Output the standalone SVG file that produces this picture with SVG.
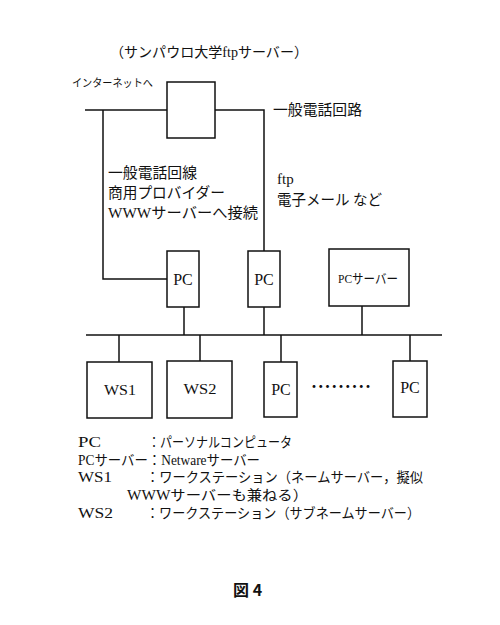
<svg xmlns="http://www.w3.org/2000/svg" width="500" height="625" viewBox="0 0 500 625">
<style>
.t{font-family:"Liberation Serif","Noto Sans CJK JP",serif;fill:#111}
.b{fill:#fff;stroke:#111;stroke-width:1.5}
.c line,.c polyline{stroke:#111;stroke-width:1.5;fill:none}
</style>
<rect width="500" height="625" fill="#fff"/>
<text class="t" x="110" y="57" font-size="14" textLength="198" lengthAdjust="spacingAndGlyphs">（サンパウロ大学ftpサーバー）</text>
<text class="t" x="72" y="87" font-size="11" textLength="81" lengthAdjust="spacingAndGlyphs">インターネットへ</text>
<text class="t" x="273" y="115" font-size="15" textLength="89" lengthAdjust="spacingAndGlyphs">一般電話回路</text>
<text class="t" x="108" y="178" font-size="15" textLength="89" lengthAdjust="spacingAndGlyphs">一般電話回線</text>
<text class="t" x="108" y="198" font-size="15" textLength="117" lengthAdjust="spacingAndGlyphs">商用プロバイダー</text>
<text class="t" x="108" y="218" font-size="15" textLength="150" lengthAdjust="spacingAndGlyphs">WWWサーバーへ接続</text>
<text class="t" x="277" y="184" font-size="15">ftp</text>
<text class="t" x="277" y="205" font-size="15" textLength="105" lengthAdjust="spacingAndGlyphs">電子メール など</text>
<g class="c" id="connectors">
<line x1="85" y1="110" x2="167" y2="110"/>
<polyline points="215,110 264,110 264,251"/>
<polyline points="103,110 103,279 167,279"/>
<line x1="184" y1="307" x2="184" y2="335"/>
<line x1="264" y1="307" x2="264" y2="335"/>
<line x1="362" y1="306" x2="362" y2="335"/>
<line x1="86" y1="335" x2="442" y2="335"/>
<line x1="119" y1="335" x2="119" y2="362"/>
<line x1="200" y1="335" x2="200" y2="361"/>
<line x1="281" y1="335" x2="281" y2="362"/>
<line x1="410" y1="335" x2="410" y2="361"/>
</g>
<g id="server"><rect class="b" x="167" y="82" width="48" height="56"/></g>
<g id="pc1"><rect class="b" x="167" y="251" width="32" height="56"/><text class="t" x="183" y="285" font-size="16" text-anchor="middle">PC</text></g>
<g id="pc2"><rect class="b" x="248" y="251" width="32" height="56"/><text class="t" x="264" y="285" font-size="16" text-anchor="middle">PC</text></g>
<g id="pcserver"><rect class="b" x="329" y="249" width="80" height="57"/><text class="t" x="368" y="283" font-size="13" text-anchor="middle" textLength="60" lengthAdjust="spacingAndGlyphs">PCサーバー</text></g>
<g id="ws1"><rect class="b" x="87" y="362" width="65" height="56"/><text class="t" x="120" y="395" font-size="15" text-anchor="middle" textLength="32" lengthAdjust="spacingAndGlyphs">WS1</text></g>
<g id="ws2"><rect class="b" x="167" y="361" width="65" height="57"/><text class="t" x="200" y="394" font-size="15" text-anchor="middle" textLength="33" lengthAdjust="spacingAndGlyphs">WS2</text></g>
<g id="pc3"><rect class="b" x="264" y="362" width="33" height="55"/><text class="t" x="281" y="395" font-size="16" text-anchor="middle">PC</text></g>
<g id="pc4"><rect class="b" x="393" y="361" width="34" height="56"/><text class="t" x="410" y="393" font-size="16" text-anchor="middle">PC</text></g>
<text class="t" x="307" y="391" font-size="14" textLength="68" lengthAdjust="spacing">・・・・・・・・・</text>
<g id="legend">
<text class="t" x="78" y="447" font-size="15" textLength="23" lengthAdjust="spacingAndGlyphs">PC</text>
<text class="t" x="148" y="447" font-size="14" textLength="144" lengthAdjust="spacingAndGlyphs">：パーソナルコンピュータ</text>
<text class="t" x="78" y="465" font-size="14" textLength="182" lengthAdjust="spacingAndGlyphs">PCサーバー：Netwareサーバー</text>
<text class="t" x="78" y="482" font-size="15" textLength="34" lengthAdjust="spacingAndGlyphs">WS1</text>
<text class="t" x="146" y="482" font-size="14" textLength="277" lengthAdjust="spacingAndGlyphs">：ワークステーション（ネームサーバー，擬似</text>
<text class="t" x="127" y="500" font-size="14" textLength="181" lengthAdjust="spacingAndGlyphs">WWWサーバーも兼ねる）</text>
<text class="t" x="78" y="518" font-size="15" textLength="35" lengthAdjust="spacingAndGlyphs">WS2</text>
<text class="t" x="146" y="518" font-size="14" textLength="274" lengthAdjust="spacingAndGlyphs">：ワークステーション（サブネームサーバー）</text>
</g>
<text x="233" y="596" font-size="16" font-weight="bold" font-family="'Noto Sans CJK JP',sans-serif" fill="#111">図 4</text>
</svg>
